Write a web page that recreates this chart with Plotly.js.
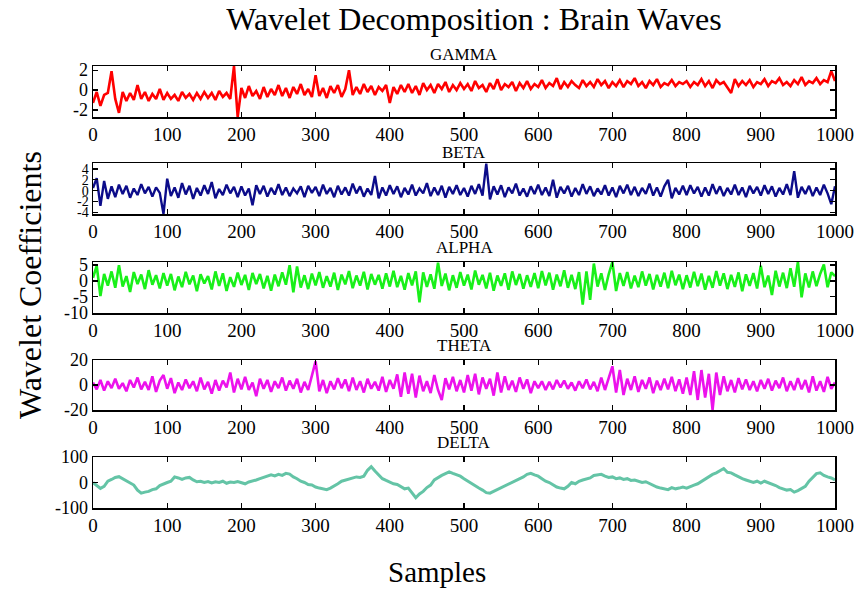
<!DOCTYPE html>
<html><head><meta charset="utf-8">
<script src="https://cdn.plot.ly/plotly-3.0.1.min.js"></script>
<style>html,body{margin:0;padding:0;background:#fff}#chart{width:860px;height:592px}</style>
</head><body><div id="chart"></div>
<script>
const step = 5;
const gamma = [
-1.3,-0.2,-1.6,-0.5,-0.3,1.9,-0.9,-2.3,-0.2,-1.1,-0.3,-1.0,0.5,-0.9,-0.2,-1.1,-0.4,-0.9,0.1,-1.0,
-0.3,-0.9,-0.5,-1.1,-0.2,-0.8,-0.4,-1.0,-0.3,-0.9,-0.2,-0.8,-0.3,-1.0,-0.1,-0.7,-0.3,-0.9,2.4,-2.7,
0.2,-0.8,0.4,-0.6,-0.1,-0.9,0.3,-0.7,0.1,-0.5,0.5,-0.6,0.2,-0.8,0.3,-0.4,0.6,-0.5,0.1,-0.7,
1.5,-0.6,0.2,-0.8,0.4,-0.3,0.5,-0.7,0.1,2.0,-0.5,0.3,-0.4,0.6,-0.2,0.4,-0.5,0.3,-0.1,0.5,
-1.3,0.3,-0.4,0.5,-0.2,0.6,-0.3,0.4,-0.5,0.7,0.0,0.5,-0.3,0.6,0.1,0.8,-0.2,0.5,0.0,0.7,
0.1,0.6,-0.1,0.9,0.2,0.5,-0.2,0.7,0.1,1.1,0.0,0.6,0.3,0.8,-0.1,0.7,0.2,0.9,0.1,0.6,
0.3,1.0,0.2,0.7,0.4,1.2,0.1,0.8,0.3,0.9,0.5,0.2,1.0,0.4,0.8,0.3,1.1,0.5,0.9,0.2,
0.8,0.4,1.0,0.3,0.9,0.6,1.2,0.4,0.8,0.2,0.9,0.5,1.1,0.3,0.7,0.5,1.0,0.4,0.8,0.6,
0.9,0.3,0.8,0.5,1.1,0.4,0.9,0.2,1.0,0.6,0.8,0.3,-0.3,1.1,0.4,0.9,0.5,1.0,0.3,0.8,
0.6,1.1,0.4,0.9,0.7,1.2,0.5,0.8,0.4,1.0,0.6,1.3,0.5,0.9,0.7,1.2,0.6,1.0,0.8,1.9,
0.9];
const beta = [
0.5,2.3,-2.8,1.8,-1.5,0.8,-1.2,1.1,-0.6,0.9,-1.3,0.4,-0.8,1.2,-0.5,0.7,-1.1,0.6,-0.4,-4.3,
2.2,-1.0,0.6,-1.3,1.4,-0.7,0.9,-1.5,0.5,-0.9,1.0,-0.6,1.6,-1.4,0.3,-0.8,1.1,-0.5,0.7,-1.2,
0.8,-0.9,0.4,-2.7,1.0,-0.6,0.9,-1.1,0.5,-0.7,1.2,-0.8,0.6,-1.0,0.4,-0.5,0.8,-1.2,0.9,-0.4,
0.7,-1.0,1.1,-0.6,0.5,-1.2,0.9,-0.7,0.6,-0.9,1.3,-0.5,0.8,-1.1,0.4,-0.8,2.7,-1.4,0.6,-0.9,
1.0,-0.6,0.8,-1.2,0.5,-0.7,1.1,-0.9,0.4,-0.5,1.4,-1.0,0.6,-0.8,0.9,-1.3,0.7,-0.6,1.0,-0.8,
0.5,-1.1,0.9,-0.6,1.2,-0.9,5.0,-1.6,0.8,-0.7,1.0,-1.2,0.6,-0.5,1.3,-0.9,0.4,-1.1,0.8,-0.6,
1.1,-0.8,0.6,-1.0,2.0,-1.3,0.7,-0.5,0.9,-1.1,0.5,-0.8,1.2,-0.6,0.8,-1.0,0.4,-0.7,1.0,-0.9,
0.6,-1.2,0.9,-0.5,1.1,-0.8,0.7,-1.0,0.5,-0.6,1.3,-0.9,0.6,-1.1,0.8,2.0,-1.4,0.5,-0.7,0.9,
-0.8,1.0,-0.5,0.7,-1.1,0.6,-0.9,1.2,-0.6,0.8,-1.0,0.5,-0.7,1.1,-0.8,0.6,-1.2,0.9,-0.5,0.7,
-0.9,1.0,-0.6,0.8,-1.1,0.5,-0.7,1.2,-0.8,3.6,-1.3,0.7,-0.6,0.9,-1.0,0.6,-0.8,1.1,-0.5,-2.5,
0.8];
const alpha = [
1.0,4.8,-4.8,2.2,-1.5,3.0,-2.2,5.0,-1.8,1.5,-3.5,2.8,-1.0,2.0,-2.6,3.4,-1.2,1.8,-2.4,2.5,
-1.5,2.2,-3.0,1.4,-2.0,2.9,-1.1,1.7,-3.3,2.1,-0.8,1.5,-2.7,3.0,-1.6,2.4,-3.2,1.2,-1.9,2.6,
-1.3,1.9,-2.9,2.5,-1.0,2.2,-2.4,1.6,-3.1,2.0,-1.7,2.7,-1.2,5.0,-3.6,4.6,-2.1,1.8,-2.6,2.3,
-1.4,2.8,-2.2,1.5,-1.8,2.6,-2.9,2.0,-1.1,3.1,-2.3,1.7,-1.5,2.9,-2.7,2.2,-1.2,1.9,-2.5,2.4,
-1.8,3.2,-2.0,1.6,-2.8,2.5,-1.4,3.0,-6.8,2.7,-1.9,2.1,-2.5,5.8,-1.6,2.3,-3.0,1.8,-2.2,2.8,
-1.5,2.0,-2.7,3.3,-1.2,1.9,-2.4,2.6,-3.1,1.7,-1.6,2.4,-2.8,3.0,-1.3,2.2,-2.5,1.8,-1.9,2.5,
-2.3,3.1,-1.4,2.6,-2.8,2.0,-1.7,3.4,-2.2,1.9,-2.6,2.8,-7.5,3.0,-6.0,5.5,-1.8,2.4,-2.9,2.1,
6.0,-3.2,2.5,-1.6,2.8,-2.4,1.7,-2.0,3.0,-1.5,2.2,-2.7,1.9,-1.8,2.6,-2.3,3.2,-1.4,2.0,-2.6,
1.8,-2.1,2.9,-1.7,2.3,-2.8,1.6,-2.2,3.1,-1.5,2.4,-2.6,1.9,-1.9,2.7,-3.3,2.1,-1.6,2.5,-2.4,
4.8,-2.0,1.7,-4.5,3.2,-1.8,2.6,-2.3,4.0,-1.9,6.0,-5.2,2.4,-2.1,3.0,-1.7,2.2,5.2,-2.0,2.7,
1.5];
const theta = [
2.0,-3.5,4.0,-4.5,3.0,-2.5,5.0,-3.0,1.5,-5.0,4.0,-2.0,6.0,-3.5,2.5,-4.0,7.0,-5.5,3.5,8.0,
-3.0,5.5,-6.5,2.0,-4.0,4.5,-2.5,3.0,-5.0,6.0,-3.5,2.5,-7.0,4.0,-4.5,3.5,-2.0,10.0,-6.0,5.0,
-3.5,6.5,-4.0,2.0,-9.0,5.0,-3.0,4.0,-5.5,3.0,-2.5,6.0,-4.5,3.5,-3.0,5.0,-6.0,2.5,-4.0,7.0,
19.0,-5.0,4.0,-6.5,3.0,-3.5,5.5,-2.5,4.5,-5.0,6.0,-4.0,3.0,-6.0,5.0,-3.0,2.5,-4.5,6.5,-5.5,
4.0,-3.0,8.5,-9.5,10.0,-7.0,9.0,-10.0,7.5,-5.0,3.0,-6.5,8.0,-4.0,-12.0,5.5,-3.5,6.5,-5.0,4.0,
-6.0,8.0,-4.5,9.0,-7.5,6.0,-3.0,5.0,-8.5,10.0,-6.0,7.0,-4.0,3.5,-5.5,6.0,-3.0,4.5,-6.5,3.0,
-2.5,3.0,-4.0,2.5,-3.5,4.0,-2.0,3.5,-3.0,2.0,-4.5,3.0,-2.5,4.5,-3.5,2.5,-5.0,6.0,-4.0,5.5,
15.0,-6.0,12.0,-8.0,5.0,-4.0,7.0,-5.5,4.0,-3.0,6.0,-6.5,3.5,-4.0,5.0,-3.5,6.5,-5.0,4.5,-7.0,
6.0,-8.0,11.0,-12.0,12.0,-10.0,9.0,-20.0,10.0,-8.0,7.0,-5.0,4.0,-6.0,5.5,-3.5,4.5,-4.0,3.0,-5.0,
4.0,-3.0,5.0,-4.5,3.5,-2.5,6.0,-5.0,3.0,-4.0,5.5,-3.5,4.0,-6.0,7.0,-4.5,3.0,-5.5,6.5,-3.0,
2.0];
const delta = [
0,-10,-23,-15,5,12,20,23,15,8,0,-10,-30,-42,-38,-35,-28,-25,-12,-5,
0,5,22,18,12,18,20,10,3,5,0,4,-2,3,0,5,-3,2,0,4,
0,-5,2,5,10,15,20,23,30,26,32,28,36,33,22,15,5,0,-8,-10,
-18,-22,-25,-28,-22,-15,-5,5,10,15,18,22,20,25,48,62,45,28,15,8,
0,-5,-8,-15,-25,-22,-40,-60,-45,-35,-20,-10,10,20,28,35,42,36,30,25,
15,5,-5,-15,-22,-30,-40,-42,-35,-28,-20,-15,-5,0,8,15,22,32,36,30,
25,15,5,0,-10,-18,-22,-25,-15,0,-5,5,10,15,18,28,30,32,25,20,
22,15,18,12,15,8,10,5,0,3,-5,-12,-18,-22,-25,-28,-20,-25,-22,-18,
-22,-15,-10,-5,5,15,22,32,38,48,55,40,38,30,22,15,10,5,0,5,
-2,5,0,-8,-12,-20,-25,-30,-28,-38,-32,-25,-15,5,20,35,38,28,22,18,
10];
const bandNames = ['GAMMA','BETA','ALPHA','THETA','DELTA'];
const bandSeries = [gamma, beta, alpha, theta, delta];
const xTickVals = [0,100,200,300,400,500,600,700,800,900,1000];
const yTickVals = [[-2,0,2],[-4,-2,0,2,4],[-10,-5,0,5],[-20,0,20],[-100,0,100]];

const colors = ['#ff0000','#0c0c8a','#19f019','#ec12ec','#64c4a6'];
const widths = [2.6, 2.4, 2.6, 2.6, 3.0];
const yRanges = [[-2.72,2.42],[-4.3,5.1],[-10.2,6.0],[-20.05,20.05],[-100.5,100.5]];
const panelTop = [66,163,262,360,457];
const panelBot = [117,214,313,410,508];
const titleY = [55,152,248,345,442];
const H = 592, W = 860;
const samples = gamma.map((_, i) => i * step);
const font = 'Liberation Serif, Times New Roman, serif';

const data = bandSeries.map((s, i) => ({
  x: samples, y: s, type: 'scatter', mode: 'lines',
  line: {color: colors[i], width: widths[i]},
  xaxis: 'x' + (i ? i + 1 : ''), yaxis: 'y' + (i ? i + 1 : ''),
  hoverinfo: 'skip', showlegend: false
}));

const layout = {
  width: W, height: H,
  margin: {l: 93, r: 25, t: 0, b: 0},
  paper_bgcolor: '#fff', plot_bgcolor: '#fff',
  font: {family: font, color: '#000', size: 18},
  title: {text: 'Wavelet Decomposition : Brain Waves', x: 474 / W, xanchor: 'center',
          y: 1 - 19 / H, yanchor: 'middle', xref: 'container', yref: 'container',
          font: {family: font, size: 32, color: '#000'}},
  annotations: [],
  showlegend: false
};
bandNames.forEach((name, i) => {
  const sx = i ? String(i + 1) : '';
  const axCommon = {
    showline: true, linecolor: '#000', linewidth: 1.5, mirror: 'ticks',
    ticks: 'inside', ticklen: 5, tickwidth: 1.3, tickcolor: '#000',
    showgrid: false, zeroline: false,
    tickfont: {family: font, size: 19, color: '#000'}
  };
  layout['xaxis' + sx] = Object.assign({}, axCommon, {
    range: [0, 1000], tickvals: xTickVals, ticktext: xTickVals.map(String),
    anchor: 'y' + sx, domain: [0, 1]
  });
  layout['yaxis' + sx] = Object.assign({}, axCommon, {
    range: yRanges[i], tickvals: yTickVals[i], ticktext: yTickVals[i].map(String),
    anchor: 'x' + sx, domain: [1 - panelBot[i] / H, 1 - panelTop[i] / H],
    tickfont: {family: font, size: i === 1 ? 14 : 18, color: '#000'}
  });
  layout.annotations.push({
    text: name, xref: 'paper', yref: 'paper', x: 0.5, y: 1 - titleY[i] / H,
    xanchor: 'center', yanchor: 'middle', showarrow: false,
    font: {family: font, size: 17, color: '#000'}
  });
});
layout.annotations.push({
  text: 'Wavelet Coefficients', xref: 'paper', yref: 'paper',
  x: (30 - 93) / 742, y: 1 - 285 / H, textangle: -90,
  xanchor: 'center', yanchor: 'middle', showarrow: false,
  font: {family: font, size: 32, color: '#000'}
});
layout.annotations.push({
  text: 'Samples', xref: 'paper', yref: 'paper',
  x: (437 - 93) / 742, y: 1 - 572 / H,
  xanchor: 'center', yanchor: 'middle', showarrow: false,
  font: {family: font, size: 29, color: '#000'}
});

Plotly.newPlot('chart', data, layout, {displayModeBar: false, staticPlot: true});
</script>
</body></html>
